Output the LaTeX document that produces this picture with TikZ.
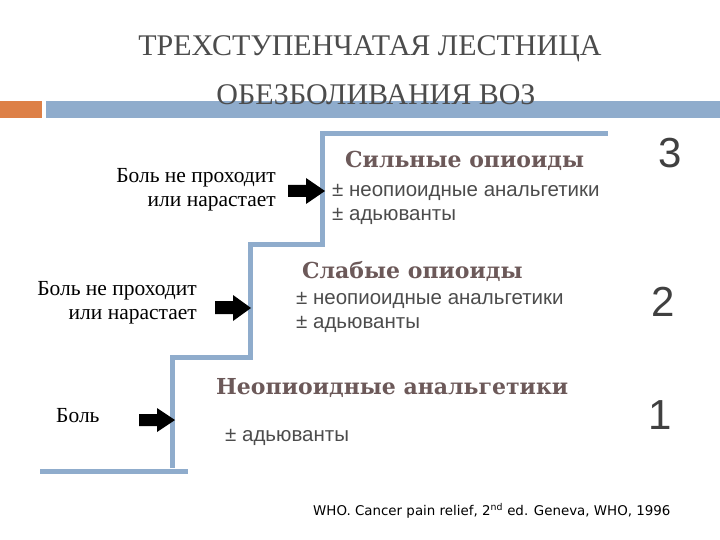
\documentclass[tikz,border=0pt]{standalone}
\usepackage{fontspec}
\setmainfont{Liberation Serif}
\newfontfamily\hfont{DejaVu Serif}
\newfontfamily\sfont{Liberation Sans}
\newfontfamily\cfont{DejaVu Sans}
\begin{document}
\begin{tikzpicture}[x=1pt,y=-1pt,
  head/.style={font=\hfont\bfseries\fontsize{22}{26}\selectfont, text=black!75!red!30!gray, anchor=west, inner sep=0},
  sub/.style={font=\sfont\fontsize{20.5}{24}\selectfont, text=black!70, anchor=west, align=left, inner sep=0},
  lab/.style={font=\fontsize{21.5}{24}\selectfont, align=right, inner sep=0},
  num/.style={font=\sfont\fontsize{42}{44}\selectfont, text=black!75, inner sep=0},
  blk/.style={fill=black}]
\useasboundingbox (0,0) rectangle (720,540);
\definecolor{barblue}{RGB}{143,172,204}
\definecolor{barorange}{RGB}{221,128,71}
\fill[barorange] (0,101) rectangle (42,118);
\fill[barblue] (46,101) rectangle (720,118);
\node[font=\fontsize{30}{32}\selectfont, text=black!70] (t1) at (370,49) {ТРЕХСТУПЕНЧАТАЯ ЛЕСТНИЦА};
\node[font=\fontsize{30}{32}\selectfont, text=black!70] (t2) at (376,95) {ОБЕЗБОЛИВАНИЯ ВОЗ};
\draw[draw=barblue, line width=5pt, line join=miter]
  (40,471) -- (188,471);
\draw[draw=barblue, line width=5pt, line join=miter]
  (172,468) -- (172,357) -- (250,357) -- (250,244) -- (322,244) -- (322,134) -- (608,134);
\node[head] (h3) at (345,161) {Сильные опиоиды};
\node[sub] (s3) at (332,204) {± неопиоидные анальгетики\\± адьюванты};
\node[head] (h2) at (302,271) {Слабые опиоиды};
\node[sub] (s2) at (296,312) {± неопиоидные анальгетики\\± адьюванты};
\node[head] (h1) at (216,388) {Неопиоидные анальгетики};
\node[sub] (s1) at (225,437) {± адьюванты};
\node[num] (n3) at (670,153) {3};
\node[num] (n2) at (663,302) {2};
\node[num] (n1) at (660,415) {1};
\node[lab, anchor=east] (l3) at (276,190) {Боль не проходит\\или нарастает};
\node[lab, anchor=east] (l2) at (197,303) {Боль не проходит\\или нарастает};
\node[lab, anchor=west] (l1) at (56,416) {Боль};
\fill[blk] (288,185) -- (306,185) -- (306,178) -- (325,191) -- (306,204) -- (306,197) -- (288,197) -- cycle;
\fill[blk] (215,301) -- (233,301) -- (233,295) -- (251,308) -- (233,321) -- (233,314) -- (215,314) -- cycle;
\fill[blk] (139,414) -- (157,414) -- (157,408) -- (175,420) -- (157,432) -- (157,426) -- (139,426) -- cycle;
\node[font=\cfont\fontsize{13.4}{15}\selectfont, text=black, anchor=west, inner sep=0] (c) at (313,511) {WHO. Cancer pain relief, 2\textsuperscript{nd} ed. Geneva, WHO, 1996};
\end{tikzpicture}
\end{document}
